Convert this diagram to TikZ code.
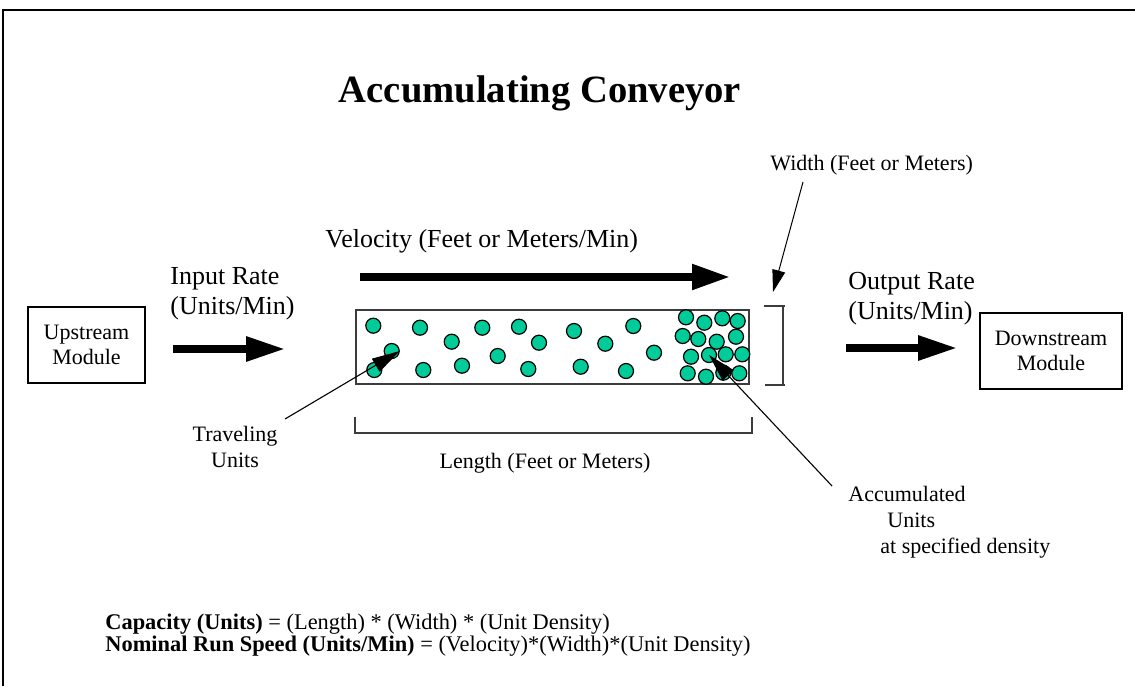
\documentclass[tikz,border=0pt]{standalone}
\usepackage{fontspec}
\setmainfont{Liberation Serif}
\usetikzlibrary{arrows.meta}
\definecolor{unitfill}{RGB}{0,204,153}
\definecolor{edge}{RGB}{60,60,60}
\begin{document}
\begin{tikzpicture}[x=0.5pt,y=-0.5pt,
  unit/.style={circle, draw=black, line width=0.6pt, fill=unitfill, minimum size=7.5pt, inner sep=0pt},
  module/.style={draw=black, line width=0.7pt, minimum height=38pt, align=center,
                 font=\fontsize{11}{12.5}\selectfont, inner sep=0pt},
  bigarrow/.style={line width=3.6pt, -{Triangle[length=19.5pt,width=11.8pt]}},
  pointer/.style={line width=0.5pt, -{Triangle[length=11pt,width=6.5pt]}},
  bigpointer/.style={line width=0.55pt, -{Triangle[length=14pt,width=7.5pt]}},
  dimline/.style={line width=0.6pt, edge},
  lbl/.style={font=\fontsize{13}{15}\selectfont, inner sep=0pt},
  note/.style={font=\fontsize{11}{13}\selectfont, inner sep=0pt},
]
\useasboundingbox (0,0) rectangle (1135,686);

% page frame (top and left edges)
\draw[line width=0.7pt] (3,686) -- (3,10) -- (1135,10);

% title
\node[font=\fontsize{19.3}{23}\selectfont\bfseries, inner sep=0pt, anchor=base] (title) at (540,102) {Accumulating Conveyor};

% modules
\node[module, minimum width=58.5pt] (up) at (86.5,345) {Upstream\\Module};
\node[module, minimum width=71pt] (down) at (1051,351) {Downstream\\Module};

% conveyor belt
\node[draw=edge, line width=0.8pt, minimum width=196.5pt, minimum height=37pt, inner sep=0pt] (belt) at (552.5,347) {};

% units on the belt
\foreach \x/\y [count=\i] in {
  373.3/325.7, 420/327.7, 482.3/327.7, 519/326.7, 574/331, 633.3/326,
  451.7/341.7, 539/342.7, 605.3/343.7, 391.7/351, 497.7/356, 654/352.7,
  374.3/370, 423.3/370, 462/365.7, 528.3/369, 580.7/366.7, 626/371,
  686/317.3, 704.3/322.7, 722.3/318.3, 737.7/321,
  682.7/336, 698.3/339, 716.7/341.7, 736/336.7,
  691/356.7, 709/355, 725.7/354.3, 742.3/354.3,
  687.7/373.3, 706/376.7, 723.3/372.7, 739.3/373.3}
  \node[unit] (d\i) at (\x,\y) {};

% flow arrows
\coordinate (in-a) at (173,349);  \coordinate (in-b) at (285,349);
\coordinate (vel-a) at (360,277); \coordinate (vel-b) at (731,277);
\coordinate (out-a) at (846,348); \coordinate (out-b) at (957,348);
\draw[bigarrow] (in-a) -- (in-b);
\draw[bigarrow, line width=4.4pt] (vel-a) -- (vel-b);
\draw[bigarrow] (out-a) -- (out-b);

% labels
\node[lbl, anchor=base west] (vel) at (325,247) {Velocity (Feet or Meters/Min)};
\node[lbl, anchor=north west, align=left] (inrate) at (170,267) {Input Rate\\(Units/Min)};
\node[lbl, anchor=north west, align=left] (outrate) at (848,272) {Output Rate\\(Units/Min)};

% width dimension
\node[note, anchor=base west] (wlab) at (770,170) {Width (Feet or Meters)};
\coordinate (wt1) at (764,306); \coordinate (wt2) at (785,306);
\coordinate (wb1) at (765,385); \coordinate (wb2) at (785,385);
\coordinate (wv1) at (783,306); \coordinate (wv2) at (783,385);
\draw[dimline] (wt1) -- (wt2);
\draw[dimline] (wb1) -- (wb2);
\draw[dimline] (wv1) -- (wv2);
\coordinate (w-tail) at (803,182);
\coordinate (w-tip) at (773,292);
\draw[pointer] (w-tail) -- (w-tip);

% length dimension
\coordinate (l1) at (355,417); \coordinate (l2) at (355,433);
\coordinate (l3) at (752,433); \coordinate (l4) at (752,417);
\draw[dimline] (l1) -- (l2) -- (l3) -- (l4);
\node[note, anchor=base] (llab) at (545,468) {Length (Feet or Meters)};

% callouts
\node[note, anchor=north, align=center] (trav) at (235,426) {Traveling\\Units};
\coordinate (trav-tail) at (285,419);
\draw[bigpointer] (trav-tail) -- (d10.east);

\node[note, anchor=north west, align=left] (acc) at (848,486)
  {Accumulated\\\hspace*{19.5pt}Units\\\hspace*{16pt}at specified density};
\coordinate (acc-tail) at (832,486);
\draw[bigpointer] (acc-tail) -- (d28.center);

% formulas
\node[note, anchor=north west, align=left, font=\fontsize{11.2}{11}\selectfont] (formulas) at (105,614)
  {\textbf{Capacity (Units)} = (Length) * (Width) * (Unit Density)\\
   \textbf{Nominal Run Speed (Units/Min)} = (Velocity)*(Width)*(Unit Density)};
\end{tikzpicture}
\end{document}
